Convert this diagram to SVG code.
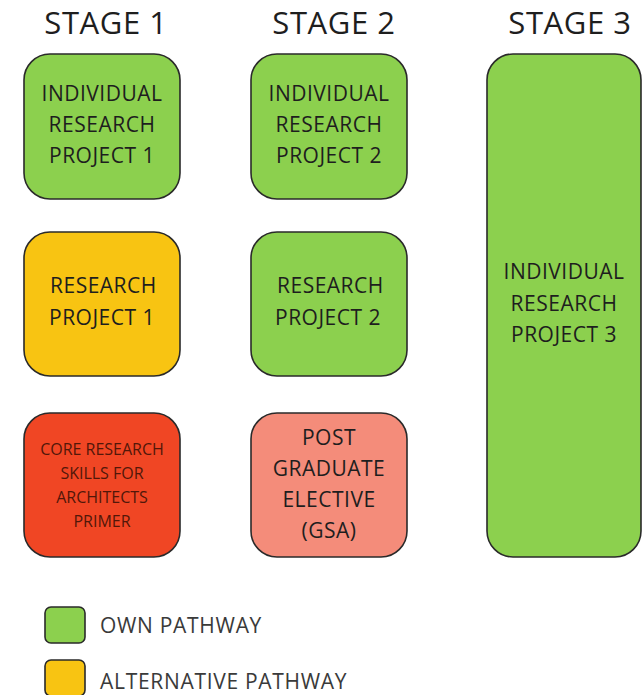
<svg xmlns="http://www.w3.org/2000/svg" width="644" height="695" viewBox="0 0 644 695">
<style>
  text { font-family: "Open Sans", "Liberation Sans", sans-serif; fill: #1e1e1e; }
  .title { font-size: 31px; text-anchor: middle; letter-spacing: 0.6px; }
  .lbl { font-size: 21px; text-anchor: middle; letter-spacing: 0.5px; }
  .lbls { font-size: 21px; text-anchor: start; letter-spacing: 0.5px; }
  .small { font-size: 16px; text-anchor: middle; fill: #521709; }
  .leg { font-size: 21px; text-anchor: start; fill: #3a3a3a; letter-spacing: 0.7px; }
  .box { stroke: #2a2a2a; stroke-width: 1.6; }
  .green { fill: #8cd04e; }
  .yellow { fill: #f8c412; }
  .red { fill: #f04624; }
  .salmon { fill: #f48c7a; }
</style>
<rect width="644" height="695" fill="#ffffff"/>
<g id="titles">
  <text class="title" x="106" y="34">STAGE 1</text>
  <text class="title" x="334" y="34">STAGE 2</text>
  <text class="title" x="570" y="34">STAGE 3</text>
</g>
<g id="connectors"></g>
<g id="irp1">
  <rect class="box green" x="24" y="54" width="156" height="145" rx="26"/>
  <text class="lbl" x="102" y="101">INDIVIDUAL</text>
  <text class="lbl" x="102" y="132">RESEARCH</text>
  <text class="lbl" x="102" y="163">PROJECT 1</text>
</g>
<g id="rp1">
  <rect class="box yellow" x="24" y="232" width="156" height="144" rx="26"/>
  <text class="lbls" x="50" y="293">RESEARCH</text>
  <text class="lbls" x="49" y="325">PROJECT 1</text>
</g>
<g id="crs">
  <rect class="box red" x="24" y="413" width="156" height="144" rx="26"/>
  <text class="small" x="102" y="455">CORE RESEARCH</text>
  <text class="small" x="102" y="479">SKILLS FOR</text>
  <text class="small" x="102" y="503">ARCHITECTS</text>
  <text class="small" x="102" y="527">PRIMER</text>
</g>
<g id="irp2">
  <rect class="box green" x="251" y="54" width="156" height="145" rx="26"/>
  <text class="lbl" x="329" y="101">INDIVIDUAL</text>
  <text class="lbl" x="329" y="132">RESEARCH</text>
  <text class="lbl" x="329" y="163">PROJECT 2</text>
</g>
<g id="rp2">
  <rect class="box green" x="251" y="232" width="156" height="144" rx="26"/>
  <text class="lbls" x="277" y="293">RESEARCH</text>
  <text class="lbls" x="275" y="325">PROJECT 2</text>
</g>
<g id="pge">
  <rect class="box salmon" x="251" y="413" width="156" height="144" rx="26"/>
  <text class="lbl" x="329" y="445">POST</text>
  <text class="lbl" x="329" y="476">GRADUATE</text>
  <text class="lbl" x="329" y="507">ELECTIVE</text>
  <text class="lbl" x="329" y="538">(GSA)</text>
</g>
<g id="irp3">
  <rect class="box green" x="487" y="54" width="154" height="503" rx="26"/>
  <text class="lbl" x="564" y="279">INDIVIDUAL</text>
  <text class="lbl" x="564" y="311">RESEARCH</text>
  <text class="lbl" x="564" y="342">PROJECT 3</text>
</g>
<g id="legend-own">
  <rect class="box green" x="45" y="607" width="40" height="36" rx="6"/>
  <text class="leg" x="100" y="633">OWN PATHWAY</text>
</g>
<g id="legend-alt">
  <rect class="box yellow" x="45" y="660" width="40" height="36" rx="6"/>
  <text class="leg" x="100" y="689">ALTERNATIVE PATHWAY</text>
</g>
</svg>
